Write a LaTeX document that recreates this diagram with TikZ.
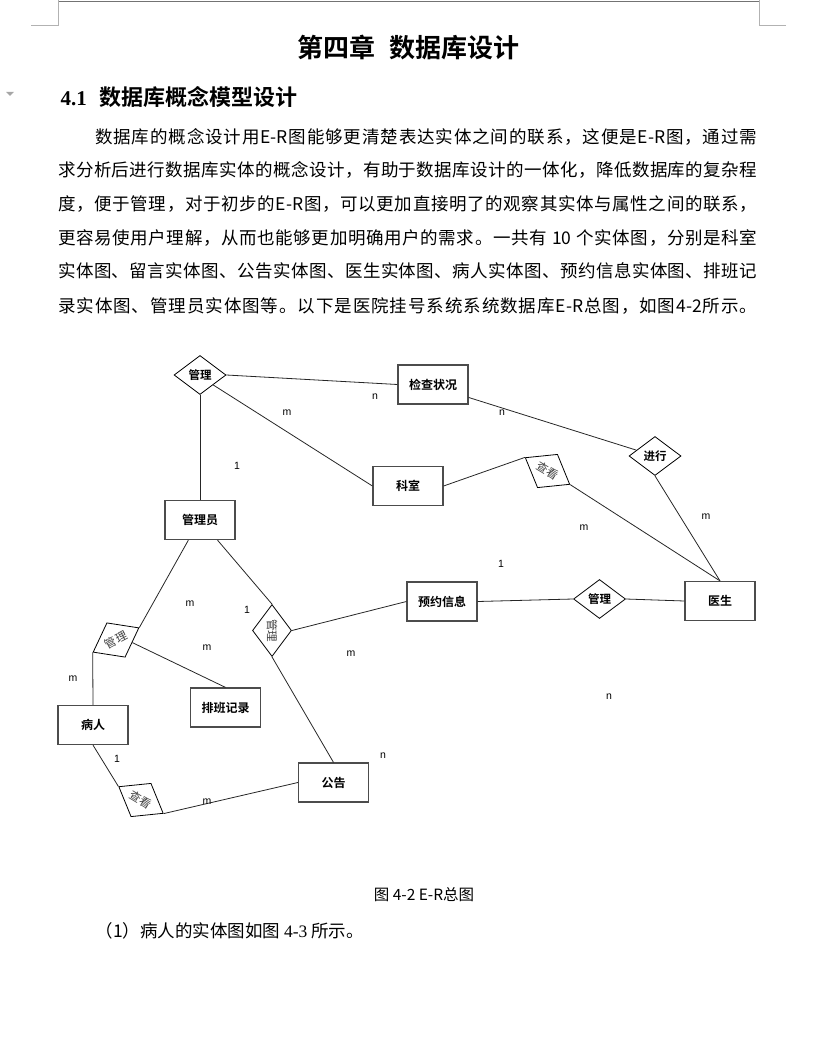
\documentclass[tikz,border=0pt]{standalone}
\usepackage{fontspec}
\setmainfont{Noto Sans CJK SC}[BoldFont={Noto Sans CJK SC Bold}]
\newfontfamily\latinserif{Liberation Serif}
\newfontfamily\labfont{Liberation Sans}
\usetikzlibrary{shapes.geometric}
% stretchable glue between CJK characters, so a line can be set to a given width
\newcount\cjkchar
\cjkchar="4E00
\loop \XeTeXcharclass\cjkchar=7 \advance\cjkchar by 1 \ifnum\cjkchar<"A000 \repeat
\XeTeXcharclass"FF0C=7 \XeTeXcharclass"3001=7 \XeTeXcharclass"3002=7
\XeTeXcharclass"FF08=7 \XeTeXcharclass"FF09=7
\XeTeXinterchartoks 7 7 = {\hskip 0pt plus 1pt}
\XeTeXinterchartoks 0 7 = {\hskip 0pt plus 1pt}
\XeTeXinterchartoks 7 0 = {\hskip 0pt plus 1pt}
\XeTeXinterchartokenstate=1
\newcommand{\fullline}[2]{\hbox to #1{#2}}

\begin{document}
\begin{tikzpicture}[x=1pt,y=-1pt,
  entity/.style={rectangle,draw=black!70,line width=1.2pt,minimum width=70pt,minimum height=39pt,
    inner sep=0pt,font=\fontsize{12}{14}\selectfont\bfseries},
  rel/.style={diamond,draw=black,line width=0.8pt,minimum width=52pt,minimum height=39pt,
    inner sep=0pt,font=\fontsize{11.5}{13}\selectfont\bfseries},
  relturn/.style={rel,font=\fontsize{11.5}{13}\selectfont,text=black!75},
  card/.style={font=\labfont\fontsize{10.5}{12}\selectfont,inner sep=0pt},
  link/.style={black!85,line width=0.8pt},
  paraline/.style={anchor=west,inner sep=0pt,font=\fontsize{17.5}{20}\selectfont},
  crop/.style={black!30,line width=0.8pt}]
\useasboundingbox (0,0) rectangle (828,1064);

%============================ page header ============================
\draw[black!55,line width=1pt] (58,2) -- (759,2);
\draw[crop] (31,25) -- (58,25) -- (58,0);
\draw[crop] (786,25) -- (759,25) -- (759,0);
\fill[black!35] (6,92) -- (14,92) -- (10,96) -- cycle;

\node[font=\fontsize{26}{30}\selectfont\bfseries] (title) at (408.5,48) {第四章\hspace{14pt}数据库设计};
\node[anchor=west,font=\fontsize{22}{26}\selectfont\bfseries] (sec) at (57,97)
  {{\latinserif\fontsize{21}{24}\selectfont 4.1}\hspace{13pt}数据库概念模型设计};

% --- body text, one node per printed line ---
\node[paraline] (p1) at (95,137)
  {\fullline{662pt}{数据库的概念设计用E-R图能够更清楚表达实体之间的联系，这便是E-R图，通过需}};
\node[paraline] (p2) at (58,170)
  {\fullline{699pt}{求分析后进行数据库实体的概念设计，有助于数据库设计的一体化，降低数据库的复杂程}};
\node[paraline] (p3) at (58,204)
  {\fullline{699pt}{度，便于管理，对于初步的E-R图，可以更加直接明了的观察其实体与属性之间的联系，}};
\node[paraline] (p4) at (58,238)
  {\fullline{699pt}{更容易使用户理解，从而也能够更加明确用户的需求。一共有 10 个实体图，分别是科室}};
\node[paraline] (p5) at (58,271)
  {\fullline{699pt}{实体图、留言实体图、公告实体图、医生实体图、病人实体图、预约信息实体图、排班记}};
\node[paraline] (p6) at (58,306)
  {\fullline{699pt}{录实体图、管理员实体图等。以下是医院挂号系统系统数据库E-R总图，如图4-2所示。}};

%============================ E-R diagram ============================
% entities
\node[entity] (jczk) at (433,384.5) {检查状况};
\node[entity] (ks)   at (408,486)   {科室};
\node[entity] (gly)  at (200,520)   {管理员};
\node[entity] (ys)   at (720,601)   {医生};
\node[entity] (yyxx) at (442,601.5) {预约信息};
\node[entity] (br)   at (93,725)    {病人};
\node[entity] (pbjl) at (225.5,707.5) {排班记录};
\node[entity] (gg)   at (333.5,782.5) {公告};

% relations
\node[rel] (gl1) at (200,375) {管理};
\node[rel] (jx)  at (655,456) {进行};
\node[rel] (gl3) at (599.5,599) {管理};
\node[relturn,rotate=-31] (ck1) at (547.5,471) {查看};
\node[relturn,rotate=-90] (gl4) at (272,630.5) {管理};
\node[relturn,rotate=28]  (gl2) at (116,640) {管理};
\node[relturn,rotate=-31] (ck2) at (141,800) {查看};

% connectors
\draw[link] (gl1.east) -- (jczk.west);
\draw[link] (gl1.south east) -- (ks.west);
\draw[link] (gl1.south) -- (gly.north);
\draw[link] (jczk.-20) -- (jx);
\draw[link] (ks.east) -- (ck1.west);
\draw[link] (ck1.east) -- (ys.north);
\draw[link] (jx.south) -- (ys.north);
\draw[link] (yyxx.east) -- (gl3.west);
\draw[link] (gl3.east) -- (ys.west);
\draw[link] (gly.-120) -- (gl2.east);
\draw[link] (gl2.west) -- (br.north);
\draw[link] (gl2.south east) -- (pbjl.north);
\draw[link] (gly.-49) -- (gl4.west);
\draw[link] (gl4.north) -- (yyxx.west);
\draw[link] (gl4.east) -- (gg.north);
\draw[link] (br.south) -- (ck2.west);
\draw[link] (ck2.east) -- (gg.west);

% cardinalities
\foreach \x/\y/\t [count=\i] in {375/397/n,287/413/m,237/466/1,502/413/n,706/517/m,
    584/528/m,501/564/1,190/604/m,247/610/1,207/648/m,351/654/m,73/679/m,
    609/697/n,117/759/1,383/756/n,207/802/m}
  \node[card] (c\i) at (\x,\y) {\t};

%============================ caption and next line ============================
\node[font=\fontsize{15.5}{18}\selectfont] (cap) at (424,895) {图 4-2 E-R总图};
\node[anchor=west,font=\fontsize{17.5}{20}\selectfont] (next) at (92,931)
  {（1）病人的实体图如图 {\latinserif 4-3} 所示。};

\end{tikzpicture}
\end{document}
